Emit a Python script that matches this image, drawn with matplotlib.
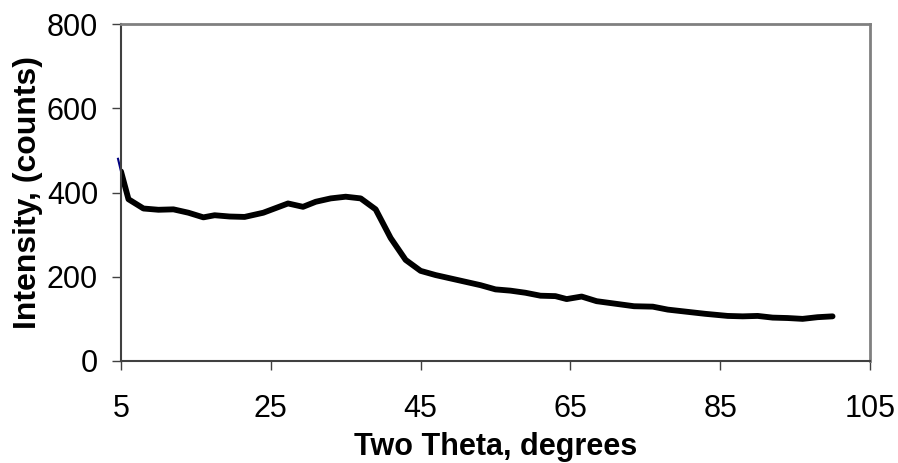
import numpy as np
import matplotlib
matplotlib.use("Agg")
import matplotlib.pyplot as plt

plt.rcParams['font.family'] = ['Liberation Sans', 'DejaVu Sans']

two_theta = [5, 6, 8, 10, 12, 14, 16, 17.5, 19.5, 21.5, 24, 27.3, 29.3, 31, 33, 35, 37, 39,
             41, 43, 45, 47, 49, 51, 53, 55, 57, 59, 61, 63, 64.5, 66.5, 68.5, 71, 73.5,
             76, 78, 80.5, 83, 86, 88, 90, 92, 94, 96, 98, 100]
intensity = [450, 384, 362, 359, 360, 352, 341, 346, 343, 342, 352, 374, 366, 378, 386, 390,
             386, 360, 292, 240, 214, 204, 196, 188, 180, 170, 167, 162, 155, 154, 147, 153,
             142, 136, 130, 129, 122, 117, 112, 107, 106, 107, 103, 102, 100, 104, 106]

# small blue stub visible at the left edge
blue_x = [4.6, 5.0]
blue_y = [480, 450]

x_ticks = [5, 25, 45, 65, 85, 105]
y_ticks = [0, 200, 400, 600, 800]

fig = plt.figure(figsize=(8.98, 4.63), dpi=100)
ax = fig.add_axes([121 / 898, 1 - 361 / 463, (870 - 121) / 898, (361 - 24) / 463])

ax.plot(blue_x, blue_y, color='#000080', lw=1.5, clip_on=False)
ax.plot(two_theta, intensity, color='black', lw=4.2, solid_capstyle='round',
        solid_joinstyle='round')

ax.set_xlim(5, 105)
ax.set_ylim(0, 800)
ax.set_xticks(x_ticks)
ax.set_yticks(y_ticks)
ax.tick_params(labelsize=22, length=6.5, width=1, color='#404040', direction='out')
ax.tick_params(axis='x', pad=17)
ax.tick_params(axis='y', pad=10)

for s in ['top', 'right']:
    ax.spines[s].set_color('#808080')
    ax.spines[s].set_linewidth(2)
for s in ['left', 'bottom']:
    ax.spines[s].set_color('#404040')
    ax.spines[s].set_linewidth(1.5)

ax.set_xlabel('Two Theta, degrees', fontsize=22, fontweight='bold', labelpad=6)
ax.set_ylabel('Intensity, (counts)', fontsize=23, fontweight='bold', labelpad=3)

fig.savefig('out.png', dpi=100)
